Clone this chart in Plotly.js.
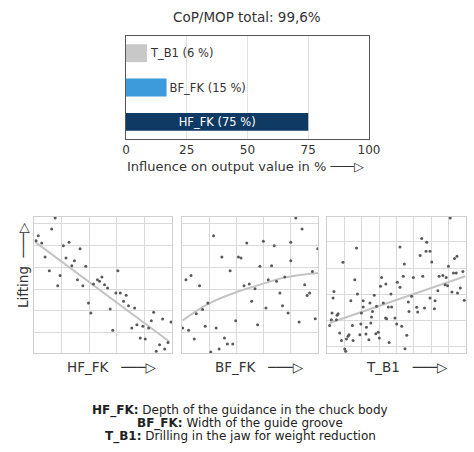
<!DOCTYPE html>
<html>
<head>
<meta charset="utf-8">
<script src="https://cdn.plot.ly/plotly-3.0.1.min.js"></script>
<style>html,body{margin:0;padding:0;background:#fff;}#chart{width:474px;height:452px;}</style>
</head>
<body>
<div id="chart"></div>
<script>
// ---- Influence bar chart ----
const barCategories = ['HF_FK', 'BF_FK', 'T_B1'];
const barLengths = [75, 16.7, 8.6];          // drawn bar length (% axis)
const barLabelValues = [75, 15, 6];          // values printed in labels
const barColors = ['#0f3a63', '#3d9bdb', '#c8c8c8'];
const totalText = 'CoP/MOP total: 99,6%';
const barTicks = [0, 25, 50, 75, 100];

// ---- Scatter panel: HF_FK ----
const hfX = [1.53,1.28,0.31,0.15,0.56,0.80,2.13,2.54,3.34,2.32,2.93,2.74,3.75,1.11,1.89,1.72,3.15,3.54,4.31,4.60,4.75,4.92,5.11,5.33,6.08,3.95,4.12,5.52,5.93,6.25,6.68,6.49,6.85,7.29,5.71,7.09,7.46,7.89,8.31,8.50,8.67,9.32,9.93,7.70,8.06,9.10,9.71,9.47,8.86];
const hfY = [9.93,9.12,8.63,8.26,8.09,7.06,7.89,8.14,7.67,6.99,6.79,6.42,6.37,6.05,5.69,4.95,5.39,4.95,5.07,5.39,5.27,5.59,5.02,4.78,6.05,3.68,2.94,3.24,4.41,4.41,4.24,3.80,3.48,3.31,1.67,1.84,2.08,1.96,1.84,2.38,2.99,2.50,2.28,1.10,1.03,0.61,0.78,0.29,0.12];
const hfFitX = [0.1, 9.8];
const hfFitY = [8.15, 0.85];

// ---- Scatter panel: BF_FK ----
const bfX = [8.37,8.83,2.32,9.98,4.76,5.98,6.78,2.93,4.15,4.34,8.0,5.73,6.59,3.54,0.29,0.66,1.29,4.56,4.95,5.37,6.34,6.95,7.56,8.0,9.59,9.02,7.20,9.39,9.20,5.12,7.39,6.17,7.80,1.90,1.51,1.05,9.80,8.61,3.95,5.56,1.71,2.51,0.05,0.49,0.90,3.12,3.34,3.73,2.73,2.12];
const bfY = [9.93,9.12,8.63,7.67,8.09,8.21,7.89,7.06,7.06,6.99,8.14,6.37,6.42,6.05,5.39,5.69,4.95,4.95,5.07,4.73,5.39,5.27,5.59,6.79,6.0,5.02,4.41,4.41,4.22,3.80,3.48,3.31,2.94,3.68,3.19,2.89,2.52,2.28,2.38,2.08,1.96,1.84,1.84,1.67,1.03,1.10,0.66,0.66,0.29,0.07];
const bfFitX = [0.05, 1.90, 4.02, 5.37, 7.20, 8.90, 10.0];
const bfFitY = [2.40, 3.60, 4.49, 4.90, 5.47, 5.76, 5.88];

// ---- Scatter panel: T_B1 ----
const tbX = [7.09,5.45,5.74,1.70,4.20,5.36,5.70,5.93,0.92,4.45,6.03,7.34,7.48,6.99,7.28,7.44,7.82,6.45,6.67,6.86,3.14,4.39,4.97,5.51,1.60,3.39,4.05,4.20,3.08,6.80,6.94,7.67,6.38,7.19,7.51,0.40,0.35,3.68,1.75,4.87,2.72,2.08,1.37,2.47,5.93,6.22,7.90,3.24,2.85,3.53,3.72,4.68,5.16,5.61,6.18,2.08,2.62,1.98,4.72,5.22,0.29,0.64,0.58,0.25,0.54,2.56,3.37,3.43,3.91,0.15,1.46,1.95,2.27,2.52,4.01,4.30,0.73,1.27,1.21,1.12,1.50,0.83,1.89,2.24,2.81,2.95,3.01,2.41,3.58,4.59,4.49,1.02,1.08];
const tbY = [9.93,8.41,8.14,7.72,7.79,7.16,7.48,7.48,6.67,6.54,6.69,6.94,7.11,6.37,5.88,5.88,6.0,5.64,5.69,5.56,5.56,5.64,5.56,5.64,5.39,5.07,5.20,4.83,4.90,5.02,4.95,4.78,4.58,4.49,4.41,4.53,4.04,4.34,4.34,4.17,4.24,3.85,3.85,3.68,4.04,3.85,3.87,3.68,3.43,3.38,3.38,3.75,3.36,3.31,3.26,3.38,3.06,2.94,3.06,3.01,2.94,2.89,2.77,2.45,2.45,2.65,2.57,2.52,2.57,2.03,2.03,2.13,1.89,2.21,2.13,1.96,1.47,1.35,1.23,1.03,0.91,0.91,1.35,1.40,1.42,1.52,1.10,0.98,0.78,1.30,0.32,0.29,0.12];
const tbFitX = [0.15, 7.96];
const tbFitY = [2.21, 5.64];

const panelTitles = ['HF_FK', 'BF_FK', 'T_B1'];
const yTitle = 'Lifting';
const legendLines = [
  ['HF_FK:', 'Depth of the guidance in the chuck body'],
  ['BF_FK:', 'Width of the guide groove'],
  ['T_B1:', 'Drilling in the jaw for weight reduction']
];

const W = 474, H = 452;
const px = x => x / W;
const py = y => 1 - y / H;
const FONT = 'DejaVu Sans, Verdana, sans-serif';
const TXT = '#333333';
const ARROW = '\u2500\u2500\u2500\u25B7';

const barLabels = barCategories.map((c, i) => c + ' (' + barLabelValues[i] + ' %)');

const traces = [{
  type: 'bar', orientation: 'h',
  y: barCategories, x: barLengths,
  marker: {color: barColors, line: {width: 0}},
  text: barLabels,
  textposition: ['inside', 'outside', 'outside'],
  insidetextanchor: 'middle',
  constraintext: 'none',
  insidetextfont: {family: FONT, size: 11.5, color: '#ffffff'},
  outsidetextfont: {family: FONT, size: 11.5, color: TXT},
  cliponaxis: false,
  hoverinfo: 'none',
  xaxis: 'x', yaxis: 'y'
}];

const scatterSets = [
  [hfX, hfY, hfFitX, hfFitY, 'linear', 'x2', 'y2'],
  [bfX, bfY, bfFitX, bfFitY, 'spline', 'x3', 'y3'],
  [tbX, tbY, tbFitX, tbFitY, 'linear', 'x4', 'y4']
];
scatterSets.forEach(s => {
  traces.push({type: 'scatter', mode: 'lines', x: s[2], y: s[3],
    line: {color: '#c4c4c4', width: 2, shape: s[4]}, xaxis: s[5], yaxis: s[6], hoverinfo: 'none'});
  traces.push({type: 'scatter', mode: 'markers', x: s[0], y: s[1],
    marker: {color: '#5a5a5a', size: 3}, xaxis: s[5], yaxis: s[6], hoverinfo: 'none'});
});

function panelAxis(domain, range, tick0, dtick) {
  return {domain: domain, range: range, tick0: tick0, dtick: dtick, tickmode: 'linear',
    showticklabels: false, ticks: '', showgrid: true, gridcolor: '#dadada', gridwidth: 1,
    zeroline: false, showline: true, mirror: true, linecolor: '#d0d0d0', linewidth: 1, fixedrange: true};
}

const annotations = [
  {text: totalText, x: px(247), y: py(17), xref: 'paper', yref: 'paper', showarrow: false,
   font: {family: FONT, size: 13.5, color: TXT}, xanchor: 'center', yanchor: 'middle'},
  {text: 'Influence on output value in % ' + ARROW, x: px(245), y: py(166), xref: 'paper', yref: 'paper', showarrow: false,
   font: {family: FONT, size: 13, color: TXT}, xanchor: 'center', yanchor: 'middle'},
  {text: yTitle + '  ' + ARROW, x: px(23), y: py(265), xref: 'paper', yref: 'paper', showarrow: false, textangle: -90,
   font: {family: FONT, size: 13.5, color: TXT}, xanchor: 'center', yanchor: 'middle'}
];
const titleCenters = [112, 259, 407];
panelTitles.forEach((t, i) => annotations.push({
  text: t + '   ' + ARROW, x: px(titleCenters[i]), y: py(367), xref: 'paper', yref: 'paper', showarrow: false,
  font: {family: FONT, size: 13.5, color: TXT}, xanchor: 'center', yanchor: 'middle'}));
const legendYs = [410.5, 423.5, 436.5];
legendLines.forEach((l, i) => annotations.push({
  text: '<b>' + l[0] + '</b> ' + l[1], x: px(240), y: py(legendYs[i]), xref: 'paper', yref: 'paper', showarrow: false,
  font: {family: FONT, size: 12, color: '#222'}, xanchor: 'center', yanchor: 'middle'}));

const layout = {
  width: W, height: H, margin: {l: 0, r: 0, t: 0, b: 0},
  paper_bgcolor: '#ffffff', plot_bgcolor: '#ffffff',
  showlegend: false, bargap: 0.48,
  font: {family: FONT, color: TXT},
  xaxis: {domain: [px(126), px(369)], range: [0, 100], tickvals: barTicks, ticktext: barTicks.map(String),
    tickfont: {family: FONT, size: 12, color: TXT}, ticks: '', showgrid: true, gridcolor: '#e2e2e2',
    zeroline: false, showline: true, mirror: true, linecolor: '#555555', linewidth: 1, fixedrange: true},
  yaxis: {domain: [py(139), py(36)], type: 'category', categoryorder: 'array', categoryarray: barCategories,
    showticklabels: false, ticks: '', showgrid: false, zeroline: false, showline: true, mirror: true,
    linecolor: '#555555', linewidth: 1, fixedrange: true},
  xaxis2: panelAxis([px(34), px(172)], [0, 10], 0, 2),
  yaxis2: panelAxis([py(353), py(217)], [0, 10], 1.5, 1.6),
  xaxis3: panelAxis([px(182), px(318)], [0, 10], 0, 2),
  yaxis3: panelAxis([py(353), py(217)], [0, 10], 1.5, 1.6),
  xaxis4: panelAxis([px(327), px(466)], [0, 8], 0, 1),
  yaxis4: panelAxis([py(353), py(217)], [0, 10], 0.49, 1.92),
  annotations: annotations
};
layout.yaxis2.anchor = 'x2'; layout.xaxis2.anchor = 'y2';
layout.yaxis3.anchor = 'x3'; layout.xaxis3.anchor = 'y3';
layout.yaxis4.anchor = 'x4'; layout.xaxis4.anchor = 'y4';

Plotly.newPlot('chart', traces, layout, {staticPlot: true, displayModeBar: false});
</script>
</body>
</html>
